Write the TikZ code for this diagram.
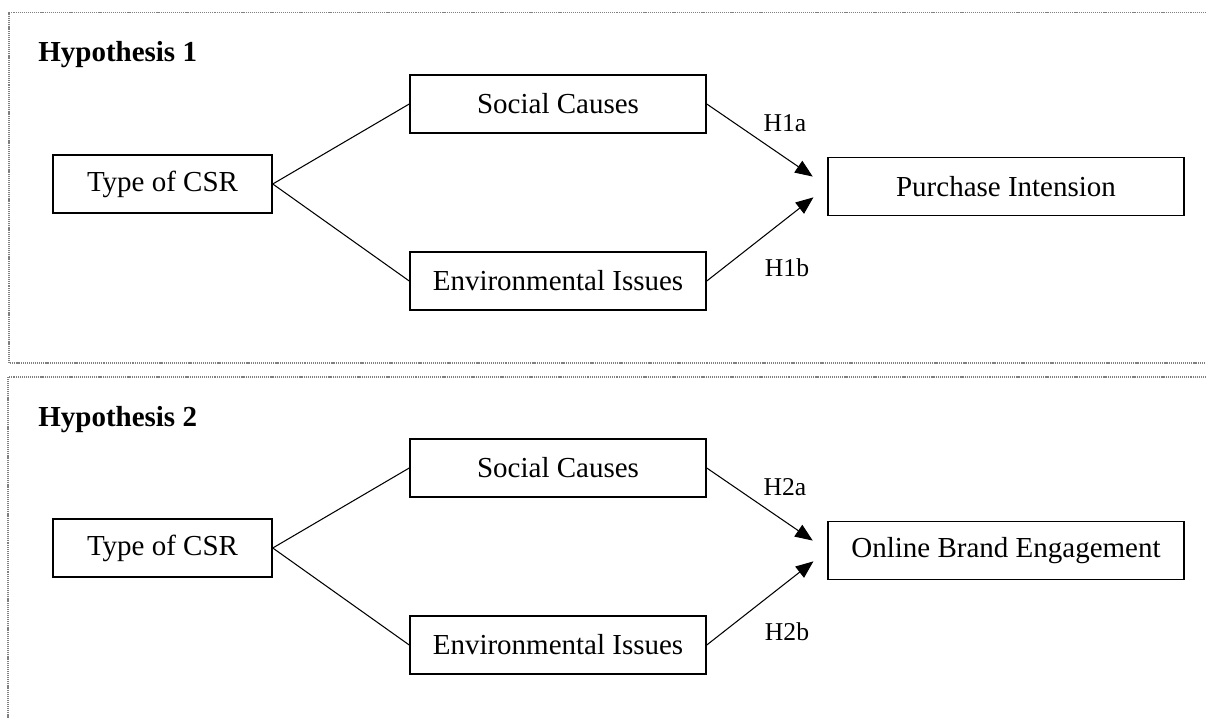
\documentclass[tikz,border=0pt]{standalone}
\usepackage{fontspec}
\setmainfont{Liberation Serif}
\usetikzlibrary{arrows.meta}

\begin{document}
\begin{tikzpicture}[x=0.02cm, y=-0.02cm,
    box/.style = {draw, line width=0.9pt, inner sep=0pt, minimum height=1.16cm, font=\fontsize{16.5}{20}\selectfont},
    hyp/.style = {anchor=base west, inner sep=0pt, font=\fontsize{16.5}{20}\selectfont\bfseries},
    lbl/.style = {inner sep=0pt, font=\fontsize{14.6}{18}\selectfont},
    frame/.style = {gray, line width=0.6pt, dash pattern=on 0.6pt off 0.5pt},
    link/.style = {line width=0.6pt},
    arr/.style = {line width=0.6pt, -{Triangle[length=10pt, width=8pt]}, shorten >=10pt}]
  \useasboundingbox (0,0) rectangle (1206,719);

  % first panel
  \draw[frame] (1206,12.7) -- (9,12.7) -- (9,363) -- (1206,363);
  \node[hyp] (t1) at (38,62) {Hypothesis 1};

  \node[box, minimum width=4.38cm] (csr1) at (162.5,184) {Type of CSR};
  \node[box, minimum width=5.92cm] (sc1) at (558,104) {Social Causes};
  \node[box, minimum width=5.92cm] (ei1) at (558,281) {Environmental Issues};
  \node[box, minimum width=7.12cm] (pi1) at (1006,186.5) {Purchase Intension};

  \draw[link] (csr1.east) -- (sc1.west);
  \draw[link] (csr1.east) -- (ei1.west);
  \draw[arr] (sc1.east) -- (pi1.west);
  \draw[arr] (ei1.east) -- (pi1.west);

  \node[lbl] (h1a) at (785,123) {H1a};
  \node[lbl] (h1b) at (787,268) {H1b};

  % second panel
  \draw[frame] (1206,377) -- (8,377) -- (8,719);
  \node[hyp] (t2) at (38,426) {Hypothesis 2};

  \node[box, minimum width=4.38cm] (csr2) at (162.5,548) {Type of CSR};
  \node[box, minimum width=5.92cm] (sc2) at (558,468) {Social Causes};
  \node[box, minimum width=5.92cm] (ei2) at (558,645) {Environmental Issues};
  \node[box, minimum width=7.12cm] (obe2) at (1006,550.5) {Online Brand Engagement};

  \draw[link] (csr2.east) -- (sc2.west);
  \draw[link] (csr2.east) -- (ei2.west);
  \draw[arr] (sc2.east) -- (obe2.west);
  \draw[arr] (ei2.east) -- (obe2.west);

  \node[lbl] (h2a) at (785,487) {H2a};
  \node[lbl] (h2b) at (787,632) {H2b};

\end{tikzpicture}
\end{document}
